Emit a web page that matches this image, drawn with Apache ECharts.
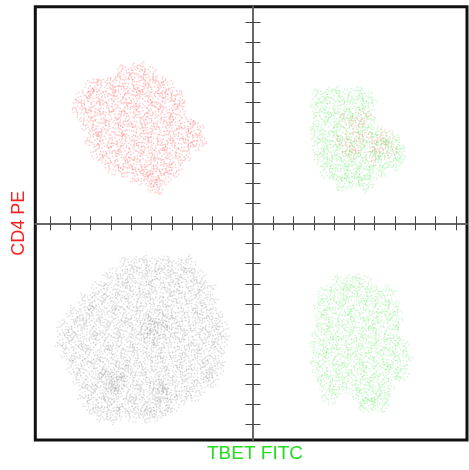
<!DOCTYPE html>
<html><head><meta charset="utf-8">
<script src="https://cdn.jsdelivr.net/npm/echarts@6/dist/echarts.min.js"></script>
<style>html,body{margin:0;padding:0;background:#fff}#c{width:469px;height:470px}</style>
</head><body><div id="c"></div><script>
// ---- data ----
const X_TICKS = [-10,-9,-8,-7,-6,-5,-4,-3,-2,-1,1,2,3,4,5,6,7,8,9,10];
const Y_TICKS = [-10,-9,-8,-7,-6,-5,-4,-3,-2,-1,1,2,3,4,5,6,7,8,9,10];
const X_RANGE = [-10.73, 10.55];
const Y_RANGE = [-10.76, 10.76];
const X_LABEL = 'TBET FITC';
const Y_LABEL = 'CD4 PE';

const redQ1 = [
 [-6.3,7.5],[-5.7,7.6],[-5.1,7.4],
 [-7.9,6.8],[-7.3,6.9],[-6.7,7.0],[-6.1,6.8],[-5.5,6.9],[-4.9,6.9],[-4.3,6.8],
 [-8.4,6.2],[-7.8,6.3],[-7.2,6.2],[-6.6,6.3],[-6.0,6.2],[-5.4,6.3],[-4.8,6.2],[-4.2,6.3],[-3.7,6.2],
 [-8.5,5.6],[-7.9,5.5],[-7.3,5.6],[-6.7,5.5],[-6.1,5.6],[-5.5,5.5],[-4.9,5.6],[-4.3,5.5],[-3.7,5.6],
 [-8.1,4.9],[-7.5,4.8],[-6.9,4.9],[-6.3,4.8],[-5.7,4.9],[-5.1,4.8],[-4.5,4.9],[-3.9,4.8],[-3.3,4.9],[-2.8,4.7],
 [-7.9,4.2],[-7.3,4.1],[-6.7,4.2],[-6.1,4.1],[-5.5,4.2],[-4.9,4.1],[-4.3,4.2],[-3.7,4.1],[-3.1,4.2],[-2.7,4.0],
 [-7.6,3.5],[-7.0,3.4],[-6.4,3.5],[-5.8,3.4],[-5.2,3.5],[-4.6,3.4],[-4.0,3.5],[-3.4,3.4],
 [-6.9,2.8],[-6.3,2.7],[-5.7,2.8],[-5.1,2.7],[-4.5,2.8],[-3.9,2.7],
 [-5.6,2.3],[-5.0,2.2],[-4.4,2.3],
 [-4.8,1.8]
];
const greenQ2 = [
 [3.3,6.3],[3.9,6.4],[4.5,6.3],[5.1,6.4],[5.6,6.2],
 [3.2,5.7],[3.8,5.6],[4.4,5.7],[5.0,5.6],[5.6,5.7],
 [3.3,5.0],[3.9,5.1],[4.5,5.0],[5.1,5.1],[5.7,5.0],
 [3.2,4.4],[3.8,4.3],[4.4,4.4],[5.0,4.3],[5.6,4.4],[6.2,4.3],[6.8,4.2],
 [3.3,3.8],[3.9,3.7],[4.5,3.8],[5.1,3.7],[5.7,3.8],[6.3,3.7],[6.9,3.8],[7.2,3.5],
 [3.4,3.2],[4.0,3.1],[4.6,3.2],[5.2,3.1],[5.8,3.2],[6.4,3.1],[7.0,3.0],
 [3.7,2.6],[4.3,2.5],[4.9,2.6],[5.5,2.5],[6.1,2.6],
 [4.4,2.0],[5.0,2.1],[5.6,2.0]
];
const redQ2 = [
 [4.6,5.1],[5.2,4.7],[4.4,4.1],[5.0,3.9],[5.6,4.2],[6.2,3.9],
 [6.7,3.6],[5.9,3.4],[4.8,3.5],[6.5,4.3],[5.4,5.3]
];
const grayQ3 = [
 [-6.2,-2.05],[-5.6,-2.0],[-5.0,-2.1],[-4.4,-2.0],[-3.8,-2.1],[-3.2,-2.05],
 [-6.9,-2.6],[-6.3,-2.7],[-5.7,-2.6],[-5.1,-2.7],[-4.5,-2.6],[-3.9,-2.7],[-3.3,-2.6],[-2.7,-2.7],
 [-7.6,-3.25],[-7.0,-3.3],[-6.4,-3.2],[-5.8,-3.3],[-5.2,-3.25],[-4.6,-3.3],[-4.0,-3.2],[-3.4,-3.3],[-2.8,-3.2],[-2.3,-3.3],
 [-8.2,-3.9],[-7.7,-3.95],[-7.1,-3.85],[-6.5,-3.95],[-5.9,-3.9],[-5.3,-3.85],[-4.7,-3.95],[-4.1,-3.9],[-3.5,-3.85],[-2.9,-3.95],[-2.2,-3.9],
 [-8.8,-4.55],[-8.3,-4.6],[-7.8,-4.5],[-7.2,-4.6],[-6.6,-4.55],[-6.0,-4.5],[-5.4,-4.6],[-4.8,-4.55],[-4.2,-4.5],[-3.6,-4.6],[-3.0,-4.55],[-2.4,-4.5],[-1.9,-4.6],
 [-9.3,-5.2],[-8.7,-5.25],[-8.1,-5.15],[-7.5,-5.25],[-6.9,-5.2],[-6.3,-5.15],[-5.7,-5.25],[-5.1,-5.2],[-4.5,-5.15],[-3.9,-5.25],[-3.3,-5.2],[-2.7,-5.15],[-2.1,-5.25],[-1.6,-5.2],
 [-9.3,-5.85],[-8.7,-5.8],[-8.1,-5.9],[-7.5,-5.8],[-6.9,-5.85],[-6.3,-5.9],[-5.7,-5.8],[-5.1,-5.85],[-4.5,-5.9],[-3.9,-5.8],[-3.3,-5.85],[-2.7,-5.9],[-2.1,-5.8],[-1.6,-5.85],
 [-9.1,-6.5],[-8.5,-6.45],[-7.9,-6.55],[-7.3,-6.5],[-6.7,-6.45],[-6.1,-6.55],[-5.5,-6.5],[-4.9,-6.45],[-4.3,-6.55],[-3.7,-6.5],[-3.1,-6.45],[-2.5,-6.55],[-1.8,-6.5],
 [-8.8,-7.15],[-8.2,-7.1],[-7.6,-7.2],[-7.0,-7.15],[-6.4,-7.1],[-5.8,-7.2],[-5.2,-7.15],[-4.6,-7.1],[-4.0,-7.2],[-3.4,-7.15],[-2.8,-7.1],[-2.2,-7.2],[-1.8,-7.15],
 [-8.5,-7.8],[-7.9,-7.85],[-7.3,-7.75],[-6.7,-7.85],[-6.1,-7.8],[-5.5,-7.75],[-4.9,-7.85],[-4.3,-7.8],[-3.7,-7.75],[-3.1,-7.85],[-2.5,-7.8],[-2.1,-7.75],
 [-8.2,-8.45],[-7.6,-8.4],[-7.0,-8.5],[-6.4,-8.45],[-5.8,-8.4],[-5.2,-8.5],[-4.6,-8.45],[-4.0,-8.4],[-3.4,-8.5],[-2.9,-8.45],
 [-8.0,-9.05],[-7.4,-9.0],[-6.8,-9.1],[-6.2,-9.05],[-5.6,-9.0],[-5.0,-9.1],[-4.4,-9.05],[-4.0,-9.0],
 [-7.4,-9.5],[-6.8,-9.5],[-5.9,-9.5],[-5.2,-9.5],[-4.7,-9.45],
 [-5.2,-4.9],[-4.6,-5.3],[-5.0,-5.6],[-4.4,-4.8],
 [-7.2,-7.6],[-6.7,-8.0],[-7.0,-8.2],[-6.5,-7.4],
 [-4.7,-8.1],[-4.4,-8.5]
];
const greenQ4 = [
 [4.3,-2.95],[4.9,-2.9],[5.5,-3.0],
 [3.6,-3.5],[4.2,-3.55],[4.8,-3.45],[5.4,-3.5],[6.0,-3.55],[6.6,-3.45],
 [3.4,-4.15],[4.0,-4.1],[4.6,-4.2],[5.2,-4.15],[5.8,-4.1],[6.4,-4.2],[6.9,-4.15],
 [3.4,-4.8],[4.0,-4.85],[4.6,-4.75],[5.2,-4.8],[5.8,-4.85],[6.4,-4.75],[7.0,-4.8],
 [3.3,-5.45],[3.9,-5.4],[4.5,-5.5],[5.1,-5.45],[5.7,-5.4],[6.3,-5.5],[6.9,-5.45],
 [3.2,-6.1],[3.8,-6.05],[4.4,-6.15],[5.0,-6.1],[5.6,-6.05],[6.2,-6.15],[6.8,-6.1],[7.3,-6.05],
 [3.2,-6.75],[3.8,-6.7],[4.4,-6.8],[5.0,-6.75],[5.6,-6.7],[6.2,-6.8],[6.8,-6.75],[7.4,-6.7],
 [3.3,-7.4],[3.9,-7.45],[4.5,-7.35],[5.1,-7.4],[5.7,-7.45],[6.3,-7.35],[6.9,-7.4],[7.3,-7.45],
 [3.6,-8.05],[4.2,-8.0],[4.8,-8.1],[5.4,-8.05],[6.0,-8.0],[6.6,-8.1],
 [3.8,-8.6],[5.3,-8.65],[5.9,-8.6],[6.4,-8.65],
 [5.6,-9.0],[6.2,-9.05]
];

// ---- style ----
const GLYPH_DOTS = [[2,1.2],[3.5,0],[5,1],[5.6,2.5],[4.6,4],[3.6,5.5],[3.6,7],
 [9,8],[10.5,7.4],[12,8],[12.5,9.5],[11.5,11],[10.5,12.5],[10.5,14],
 [8,2],[13,3],[14.6,5],[0,10],[6,9.5],[7.5,12],[2.5,13],[5,14.6],[14.6,14.6],
 [0.5,4],[8.5,5.2],[13.5,12.5],[11,4.5],[2,8.5]];
const GLYPH = 'path://' + GLYPH_DOTS.map(d => 'M' + d[0] + ' ' + d[1] + 'h1.5v1.5h-1.5z').join('');

function xAx(pos) {
  return {type:'value', position:pos, min:X_RANGE[0], max:X_RANGE[1],
    axisLine:{show:true, onZero:true, onZeroAxisIndex:0, lineStyle:{color:'#5e5e5e', width:1.5}},
    axisTick:{show:true, customValues:X_TICKS, length:7, lineStyle:{color:'#444', width:1}},
    axisLabel:{show:false}, splitLine:{show:false}};
}
function yAx(pos) {
  return {type:'value', position:pos, min:Y_RANGE[0], max:Y_RANGE[1],
    axisLine:{show:true, onZero:true, onZeroAxisIndex:0, lineStyle:{color:'#5e5e5e', width:1.5}},
    axisTick:{show:true, customValues:Y_TICKS, length:7.5, lineStyle:{color:'#444', width:1}},
    axisLabel:{show:false}, splitLine:{show:false}};
}
function sc(data, color, op) {
  return {type:'scatter', data:data, symbol:GLYPH, symbolSize:16,
    symbolRotate:(v, p) => (p.dataIndex * 97) % 360,
    itemStyle:{color:color, opacity:op}, silent:true, z:1};
}

const chart = echarts.init(document.getElementById('c'), null, {renderer:'canvas'});
chart.setOption({
  animation:false,
  grid:{left:35.3, right:2, top:6.7, bottom:30, show:true, borderColor:'#111', borderWidth:3, backgroundColor:'transparent'},
  xAxis:[xAx('bottom'), xAx('top')],
  yAxis:[yAx('left'), yAx('right')],
  series:[
    sc(redQ1, '#ff3030', 0.25),
    sc(greenQ2, '#30e030', 0.24),
    sc(redQ2, '#ff4040', 0.16),
    sc(grayQ3, '#505050', 0.17),
    sc(greenQ4, '#30e030', 0.22)
  ],
  graphic:[
    {type:'text', x:18.8, y:223.3, rotation:Math.PI/2,
     style:{text:Y_LABEL, fill:'#ff1f1f', font:'18px "Liberation Sans", Arial, sans-serif', textAlign:'center', textVerticalAlign:'middle'}},
    {type:'text', x:255, y:454,
     style:{text:X_LABEL, fill:'#22dd22', font:'19px "Liberation Sans", Arial, sans-serif', textAlign:'center', textVerticalAlign:'middle'}}
  ]
});
</script></body></html>
